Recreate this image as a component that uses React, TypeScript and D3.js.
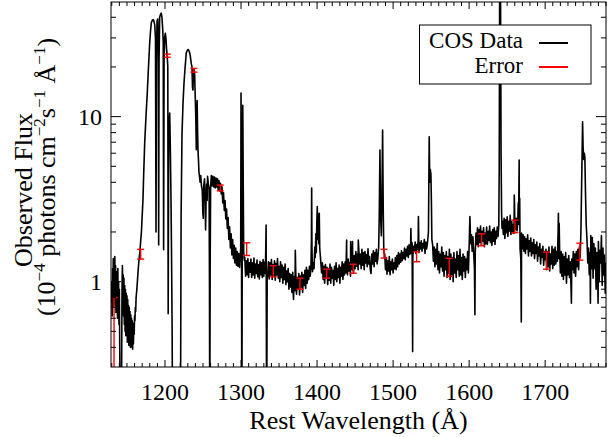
import React from 'react';
import * as d3 from 'd3';

// Hand-read spectrum: blue side and sharp features as [wavelength, flux]
const spectrumBlue: [number, number][] = [
[1129.5,0.75],[1130,1.0],[1130.5,0.62],[1131,1.2],[1131.5,0.7],[1132,1.38],[1132.5,0.8],[1133,1.3],[1133.5,0.72],[1134,1.42],[1134.5,0.85],[1135,1.25],[1135.5,0.65],[1136,1.15],[1136.5,0.7],[1137,1.1],[1137.5,0.6],[1138,1.2],[1138.5,0.65],[1139,1.0],[1139.5,0.55],[1140,0.9],[1140.5,0.4],[1141,0.2],[1141.5,0.12],[1142,0.2],[1142.5,0.15],[1143,0.3],[1143.5,0.9],[1144,1.25],[1144.5,0.8],[1145,1.1],[1145.5,0.62],[1146,1.05],[1146.5,0.55],[1147,0.95],[1147.5,0.5],[1148,0.9],[1148.5,0.47],[1149,0.85],[1149.5,0.48],[1150,0.82],[1150.5,0.43],[1151,0.78],[1151.5,0.45],[1152,0.72],[1152.5,0.41],[1153,0.7],[1153.5,0.42],[1154,0.66],[1154.5,0.4],[1155,0.63],[1155.5,0.43],[1156,0.6],[1156.5,0.4],[1157,0.58],[1157.5,0.39],[1158,0.55],[1158.5,0.42],[1159,0.56],[1159.5,0.48],[1160,0.62],[1160.5,0.58],[1161,0.7],[1161.5,0.66],[1162,0.8],[1163,0.9],[1164,1.05],[1165,1.22],[1166,1.38],[1167,1.52],[1168,1.75],
[1169,2.0],[1170,2.5],[1171,3.1],[1172,4.5],[1173.3,6.9],[1175,10],[1176.7,13.9],[1178.3,20],[1179.9,28],[1181,33],[1182,37],[1183.5,38.5],[1185,38.6],[1186.5,36],[1187.5,30],[1188.2,2.0],[1188.8,20],[1189.5,38],[1190.5,39],[1191.2,25],[1191.7,1.67],[1192.2,22],[1193,40],[1194,41.5],[1195.1,42.4],[1196,40],[1197,34],[1197.7,28],[1198.2,1.56],[1198.8,22],[1199.5,30],[1200.4,32],[1201.2,30],[1202,26],[1203,23],[1203.7,20],[1204.2,0.64],[1204.8,6],[1205.5,9],[1206.2,10.5],[1207,6.5],[1207.8,3.5],[1208.6,1.5],[1209.4,0.5],[1210,0.1],[1220,0.1],[1220.6,0.3],[1221.2,2.5],[1222.4,7.9],[1223.7,12],[1225,16],[1226.5,20],[1228,24.4],[1229.5,25.3],[1230.7,25.5],[1232,24.8],[1233.2,23.5],[1234.5,21],[1235.5,20],[1236.2,15],[1236.8,14.5],[1237.4,19],[1238.2,19.5],[1239,18],[1239.8,13.1],[1240.5,10],[1241.2,6.3],[1241.8,9],[1242.3,12.5],[1242.9,8],[1243.4,6.3],[1244,5.5],[1244.7,4.6],[1245.5,4.3],[1246.3,4.0],
[1247,4.4],[1248,3.8],[1249,3.6],[1249.8,2.6],[1250.4,2.42],[1251,3.8],[1252,4.2],[1252.8,3.2],[1253.4,2.06],[1254,3.0],[1254.8,3.9],[1255.4,3.1],[1256,4.35],[1257,3.9],[1258,3.7],[1258.5,1.0],[1258.9,0.1],[1259.4,1.2],
[1260,3.7],[1261,4.4],[1262,3.8],[1263,4.35],[1264,3.75],[1265,4.3],[1266,3.7],[1267,4.25],[1268,3.75],[1269,4.2],[1270,3.6],[1271,4.1],[1272,3.55],[1273,3.95],[1274,3.4],[1275,3.75],[1276,3.0],[1277,3.45],[1278,2.7],[1279,3.1],[1280,2.4],[1281,2.75],[1282,2.1],[1283,2.45],[1284,1.8],[1285,2.15],[1286,1.6],[1287,1.95],[1288,1.45],[1289,1.8],[1290,1.38],[1291,1.66],[1292,1.3],[1293,1.6],[1294,1.26],[1295,1.52],[1296,1.24],[1297,1.48],[1298,1.22],[1299,1.44],
[1299.6,1.6],[1300,13.9],[1300.5,4],[1301.1,0.1],[1301.7,3],[1302.3,11.7],[1302.9,4],[1303.5,1.5],[1304.2,1.35]
];

const lineFeatures: [number, number][] = [
[1333,2.2],[1333.7,0.1],[1334.4,1.1],[1371.4,1.55],
[1392,1.25],[1392.6,1.8],[1392.9,3.69],[1393.3,1.6],[1394,1.15],[1395,1.3],[1396,1.2],[1397,1.62],[1397.6,1.4],[1398.4,1.95],[1399,1.5],[1399.7,2.3],[1400.3,2.85],[1400.9,1.8],[1401.6,2.55],[1402.3,1.7],[1402.9,2.6],[1403.5,1.6],[1404.2,1.45],[1405,1.3],
[1438.9,1.79],[1444.2,1.75],[1446.6,1.75],[1454.2,1.79],
[1480,1.4],[1481,1.6],[1481.8,2.5],[1482.7,6.27],[1483.5,2.6],[1484.5,1.9],[1485.4,3.5],[1486.2,8.3],[1487,2.8],[1487.8,1.5],
[1523.4,2.1],[1525.7,0.377],[1533.3,2.48],
[1546.5,2.0],[1547,4],[1547.5,7.56],[1548.2,4.0],[1548.9,4.8],[1549.7,4.5],[1550.4,3.0],[1551,1.8],
[1601,2.48],[1607.6,0.63],
[1639,2.2],[1639.6,5],[1640.2,80],[1641.2,80],[1642,6],[1642.7,2.6],[1643.3,2.1],
[1659.4,3.35],[1664.6,3.0],[1665.8,5.46],[1666.5,3.2],[1668.6,0.57],
[1717.4,2.6],[1718.4,2.26],[1734.5,0.74],
[1747,2.0],[1747.8,3.5],[1748.6,6],[1749.2,9.3],[1749.9,6.5],[1750.7,5.5],[1751.5,6],[1752.2,5.7],[1753,3.5],[1754,2.2],
[1759.5,0.74],[1769.6,0.74]
];

// Noisy continuum, one value per Angstrom from the given start wavelength
const cont1305 = [1.4,1.08,1.34,1.1,1.38,1.06,1.3,1.14,1.37,1.06,1.3,1.1,1.39,1.05,1.28,1.12,1.35,1.07,1.27,1.04,1.33,1.1,1.3,1.06,1.36,1.08,1.31,1.12];
const cont1335 = [1.08,1.32,1.04,1.3,1.1,1.36,1.03,1.27,1.08,1.34,1.02,1.29,1.1,1.38,1.05,1.24,1.0,1.32,1.06,1.26,0.98,1.22,1.03,1.28,0.96,1.16,1.0,1.2,0.9,1.12,0.93,1.1,0.86,1.14,0.78,1.07,0.88,1.14,0.84,1.06,0.9,1.12,0.83,1.08,0.93,1.14,0.86,1.1,0.95,1.17,0.91,1.22,0.98,1.17,1.03,1.24,1.08];
const cont1406 = [1.13,1.3,1.03,1.24,0.98,1.27,1.06,1.22,0.96,1.2,1.02,1.28,0.98,1.22,1.05,1.17,0.95,1.24,1.03,1.3,1.0,1.2,1.06,1.26,0.98,1.22,1.08,1.32,1.03,1.28,1.1,1.32];
const cont1438 = [1.13,1.32,1.1,1.37,1.16,1.3,1.08,1.34,1.18,1.27,1.13,1.44,1.2,1.52,1.24,1.47,1.18,1.54,1.28,1.47,1.2,1.57,1.26,1.5,1.18,1.52,1.3,1.46,1.23,1.58,1.28,1.42,1.18,1.12,1.47,1.28,1.54,1.23,1.5,1.33,1.57,1.28];
const cont1489 = [1.47,1.18,1.4,1.11,1.34,1.16,1.42,1.1,1.32,1.18,1.37,1.13,1.3,1.2,1.4,1.18,1.44,1.23,1.5,1.28,1.47,1.31,1.54,1.34,1.5,1.38,1.6,1.36,1.57,1.43,1.64,1.4,1.67,1.46,1.62,1.48,1.72,1.43,1.64,1.53,1.74,1.48,1.68,1.56,1.8,1.5,1.72,1.58,1.77,1.53,1.7,1.6,1.8,1.48,1.74,1.58,1.68];
const cont1552 = [1.67,1.33,1.62,1.23,1.57,1.28,1.7,1.18,1.52,1.13,1.47,1.23,1.62,1.16,1.5,1.08,1.44,1.18,1.52,1.06,1.42,1.13,1.57,1.03,1.47,1.1,1.4,1.0,1.5,1.13,1.37,1.06,1.52,1.18,1.44,1.08,1.57,1.1,1.4,1.03,1.47,1.16,1.42,1.06,1.37,1.18,1.52,1.13,1.62];
const cont1602 = [1.7,1.92,1.53,1.87,1.48,1.2,1.48,1.97,1.68,2.12,1.63,2.07,1.73,2.17,1.66,2.02,1.76,2.12,1.63,1.97,1.7,2.14,1.68,2.02,1.78,2.17,1.73,2.0,1.66,2.07,1.76,2.12,1.68,2.02,1.83,2.14,1.88];
const cont1644 = [2.32,1.93,2.42,1.83,2.37,1.98,2.47,1.88,2.32,2.03,2.52,1.93,2.32,1.98,2.22,1.96,2.37,2.08,2.42,2.03,2.32,2.23,2.42,1.58,1.38,1.97,1.58,1.92,1.53,1.87,1.48,1.82,1.58,1.92,1.43,1.77,1.53,1.84,1.43,1.72,1.48,1.8,1.38,1.67,1.48,1.74,1.33,1.62,1.43,1.7,1.28,1.57,1.4,1.64,1.26,1.52,1.36];
const cont1701 = [1.57,1.18,1.52,1.23,1.62,1.16,1.47,1.28,1.64,1.2,1.57,1.26,1.62,1.28,1.52,1.33,2.0,1.38,1.57,1.13,1.52,1.08,1.47,1.03,1.42,1.1,1.5,0.98,1.37,1.1,1.44,1.06,1.32,0.93,1.37,1.18,1.52,1.13,1.47,1.08,1.52,1.23,1.57,1.18,1.62,1.4];
const cont1755 = [1.8,1.3,1.6,1.1,1.5,1.9,1.2,1.85,1.05,1.7,1.2,1.6,0.9,1.5,1.15,1.75,1.0,1.55,1.3,1.9,0.95,1.6,1.1,1.45,0.85,1.3];
const contStarts = [1305, 1335, 1406, 1438, 1489, 1552, 1602, 1644, 1701, 1755];
const contArrays = [cont1305, cont1335, cont1406, cont1438, cont1489, cont1552, cont1602, cont1644, cont1701, cont1755];

const errWave = [1133, 1168, 1203, 1238, 1272.7, 1307.4, 1342.4, 1377.5, 1412.6, 1447.6, 1488, 1530.9, 1573.8, 1616.4, 1660.2, 1701.8, 1745.6];
const errValue = [0.45, 1.47, 23.4, 19.1, 3.7, 1.58, 1.16, 0.975, 1.12, 1.2, 1.48, 1.42, 1.23, 1.8, 2.17, 1.35, 1.53];
const errSize = [0.35, 0.1, 0.5, 0.5, 0.15, 0.14, 0.09, 0.075, 0.07, 0.075, 0.09, 0.1, 0.155, 0.15, 0.19, 0.16, 0.18];

const xMajorTicks = [1200, 1300, 1400, 1500, 1600, 1700];
const yMajorTicks = [1, 10];
const legendLabels = ['COS Data', 'Error'];
const legendColors = ['#000000', '#ff0000'];

const FONT = "'Liberation Serif', 'DejaVu Serif', 'Noto Serif', 'Nimbus Roman', 'FreeSerif', Tinos, Times, 'Times New Roman', Georgia, serif";

export default function App() {
  const W = 616, H = 437;
  const L = 111, R = 606, T = 2, B = 367;
  const x = d3.scaleLinear().domain([1129, 1780]).range([L, R]);
  const y = d3.scaleLog().domain([0.304, 49.5]).range([B, T]);

  const contPoints: [number, number][] = contArrays.flatMap((arr, k) => arr.map((f, i) => [contStarts[k] + i, f] as [number, number]));
  const allPoints = [...spectrumBlue, ...lineFeatures, ...contPoints].sort((a, b) => a[0] - b[0]);

  const line = d3.line<[number, number]>().x(d => x(d[0])).y(d => y(Math.max(d[1], 0.01)));
  const xMinor = d3.range(1130, 1781, 10).filter(v => v % 100 !== 0);
  const yMinor = y.ticks().filter(v => !yMajorTicks.includes(v) && v >= 0.3);
  const errs = errWave.map((w, i) => ({ w, v: errValue[i], e: errSize[i] }));
  const tf = { fontFamily: FONT };

  return (
    <svg width={W} height={H} style={{ position: 'fixed', left: 0, top: 0, background: '#fff' }}>
      <defs>
        <clipPath id="plotclip"><rect x={L} y={T} width={R - L} height={B - T} /></clipPath>
      </defs>
      <rect x={0} y={0} width={W} height={H} fill="#fff" />
      <g clipPath="url(#plotclip)">
        <path d={line(allPoints) || ''} fill="none" stroke="#000" strokeWidth={1.6} strokeLinejoin="round" />
        {errs.map((d, i) => {
          const cx = x(d.w);
          const y1 = y(d.v + d.e);
          const y0 = y(Math.max(d.v - d.e, 0.01));
          return (
            <g key={i} stroke="#ff0000" strokeWidth={1.4}>
              <line x1={cx} x2={cx} y1={y0} y2={y1} />
              <line x1={cx - 3.5} x2={cx + 3.5} y1={y0} y2={y0} />
              <line x1={cx - 3.5} x2={cx + 3.5} y1={y1} y2={y1} />
            </g>
          );
        })}
      </g>
      <rect x={L} y={T} width={R - L} height={B - T} fill="none" stroke="#000" strokeWidth={1} />
      {xMajorTicks.map(v => (
        <g key={'xM' + v} stroke="#000">
          <line x1={x(v)} x2={x(v)} y1={B} y2={B - 7} />
          <line x1={x(v)} x2={x(v)} y1={T} y2={T + 7} />
        </g>
      ))}
      {xMinor.map(v => (
        <g key={'xm' + v} stroke="#000">
          <line x1={x(v)} x2={x(v)} y1={B} y2={B - 4} />
          <line x1={x(v)} x2={x(v)} y1={T} y2={T + 4} />
        </g>
      ))}
      {yMajorTicks.map(v => (
        <g key={'yM' + v} stroke="#000">
          <line x1={L} x2={L + 10} y1={y(v)} y2={y(v)} />
          <line x1={R} x2={R - 10} y1={y(v)} y2={y(v)} />
        </g>
      ))}
      {yMinor.map(v => (
        <g key={'ym' + v} stroke="#000">
          <line x1={L} x2={L + 5} y1={y(v)} y2={y(v)} />
          <line x1={R} x2={R - 5} y1={y(v)} y2={y(v)} />
        </g>
      ))}
      {xMajorTicks.map(v => (
        <text key={'xl' + v} style={tf} x={x(v)} y={400} textAnchor="middle" fontSize={24}>{v}</text>
      ))}
      {yMajorTicks.map(v => (
        <text key={'yl' + v} style={tf} x={102} y={y(v) + 8.5} textAnchor="end" fontSize={24}>{v}</text>
      ))}
      <text style={tf} x={(L + R) / 2} y={429} textAnchor="middle" fontSize={26}>Rest Wavelength (Å)</text>
      <text style={tf} transform="translate(32,190) rotate(-90)" textAnchor="middle" fontSize={26}>Observed Flux</text>
      <text style={tf} transform="translate(55,177) rotate(-90)" textAnchor="middle" fontSize={26}>
        (10<tspan dy={-10} fontSize={17}>−4</tspan>
        <tspan dy={10}>{' photons cm'}</tspan>
        <tspan dy={-10} fontSize={17}>−2</tspan>
        <tspan dy={10}>{'s'}</tspan>
        <tspan dy={-10} fontSize={17}>−1</tspan>
        <tspan dy={10}>{' Å'}</tspan>
        <tspan dy={-10} fontSize={17}>−1</tspan>
        <tspan dy={10}>)</tspan>
      </text>
      <rect x={419.5} y={25} width={171.5} height={59} fill="#fff" stroke="#000" strokeWidth={1} />
      {legendLabels.map((lab, i) => (
        <g key={lab}>
          <text style={tf} x={523} y={48 + i * 25} textAnchor="end" fontSize={23}>{lab}</text>
          <line x1={539} x2={568} y1={43 + i * 24} y2={43 + i * 24} stroke={legendColors[i]} strokeWidth={2} />
        </g>
      ))}
    </svg>
  );
}
